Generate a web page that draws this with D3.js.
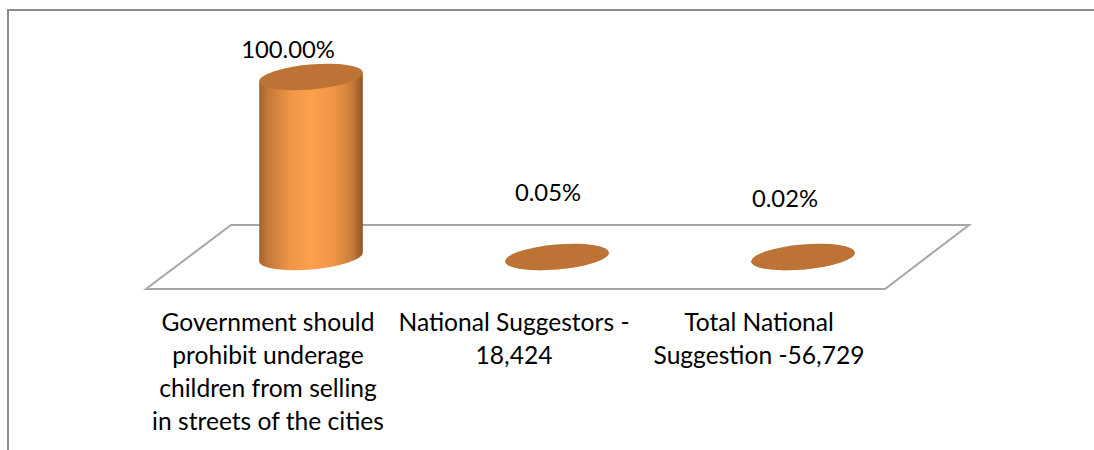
<!DOCTYPE html>
<html><head><meta charset="utf-8">
<script src="https://cdn.jsdelivr.net/npm/d3@7/dist/d3.min.js"></script>
<style>html,body{margin:0;padding:0;background:#fff}svg{display:block}text{font-family:Lato,"Open Sans",sans-serif;fill:#000}</style>
</head><body><svg id="c" width="1094" height="450"></svg>
<script>
const categories = ["Government should prohibit underage children from selling in streets of the cities","National Suggestors - 18,424","Total National Suggestion -56,729"];
const values = [100, 0.05, 0.02];
const valueLabels = ["100.00%","0.05%","0.02%"];
const categoryLines = [["Government should","prohibit underage","children from selling","in streets of the cities"],["National Suggestors -","18,424"],["Total National","Suggestion -56,729"]];

const svg = d3.select("#c");
const x = d3.scaleBand().domain(categories).range([188,926]).paddingInner(0).paddingOuter(0);
const y = d3.scaleLinear().domain([0,100]).range([257,77]);
const A=52, B=12.5, ROT=-5, rad=ROT*Math.PI/180;
const dx=A*Math.cos(rad), dy=A*Math.sin(rad);

const defs = svg.append("defs");
const g = defs.append("linearGradient").attr("id","cyl");
[[0,"#a5622b"],[0.08,"#c4783a"],[0.3,"#ef9547"],[0.5,"#ffa04c"],[0.72,"#ef9547"],[0.9,"#c97c3a"],[1,"#8f5426"]]
  .forEach(s=>g.append("stop").attr("offset",s[0]).attr("stop-color",s[1]));

// frame
const frame = d3.path();
frame.moveTo(8,450); frame.lineTo(8,10); frame.lineTo(1094,10);
svg.append("path").attr("d",frame.toString()).attr("fill","none").attr("stroke","#8c8c8c").attr("stroke-width",2);

// floor
const floor = d3.line()([[146,289],[885,289],[969,225],[231,225]])+"Z";
svg.append("path").attr("d",floor).attr("fill","#fff").attr("stroke","#a6a6a6").attr("stroke-width",2);

const marks = svg.selectAll("g.m").data(categories.map((c,i)=>({c,v:values[i],l:valueLabels[i],lines:categoryLines[i]}))).join("g").attr("class","m");
marks.append("path").attr("fill","url(#cyl)").attr("d",d=>{
  const cx=x(d.c)+x.bandwidth()/2, y0=y(0), y1=y(d.v);
  return `M${cx-dx},${y1-dy}L${cx-dx},${y0-dy}A${A},${B} ${ROT} 0 0 ${cx+dx},${y0+dy}L${cx+dx},${y1+dy}Z`;
});
marks.append("ellipse").attr("fill","#bd7336")
  .attr("rx",A).attr("ry",B)
  .attr("transform",d=>`translate(${x(d.c)+x.bandwidth()/2},${y(d.v)}) rotate(${ROT})`);

const labelOffset = [-23,-9,-18], labelY=[58,201,207];
marks.append("text").attr("text-anchor","middle").attr("font-size",23.8)
  .attr("x",(d,i)=>x(d.c)+x.bandwidth()/2+labelOffset[i]).attr("y",(d,i)=>labelY[i]).text(d=>d.l);

const catOffset=[-43,-43,-44];
marks.each(function(d,i){
  d3.select(this).selectAll("text.cat").data(d.lines).join("text").attr("class","cat")
    .attr("text-anchor","middle").attr("font-size",24.6)
    .attr("x",x(d.c)+x.bandwidth()/2+catOffset[i])
    .attr("y",(t,j)=>331+j*33).text(t=>t);
});
</script></body></html>
